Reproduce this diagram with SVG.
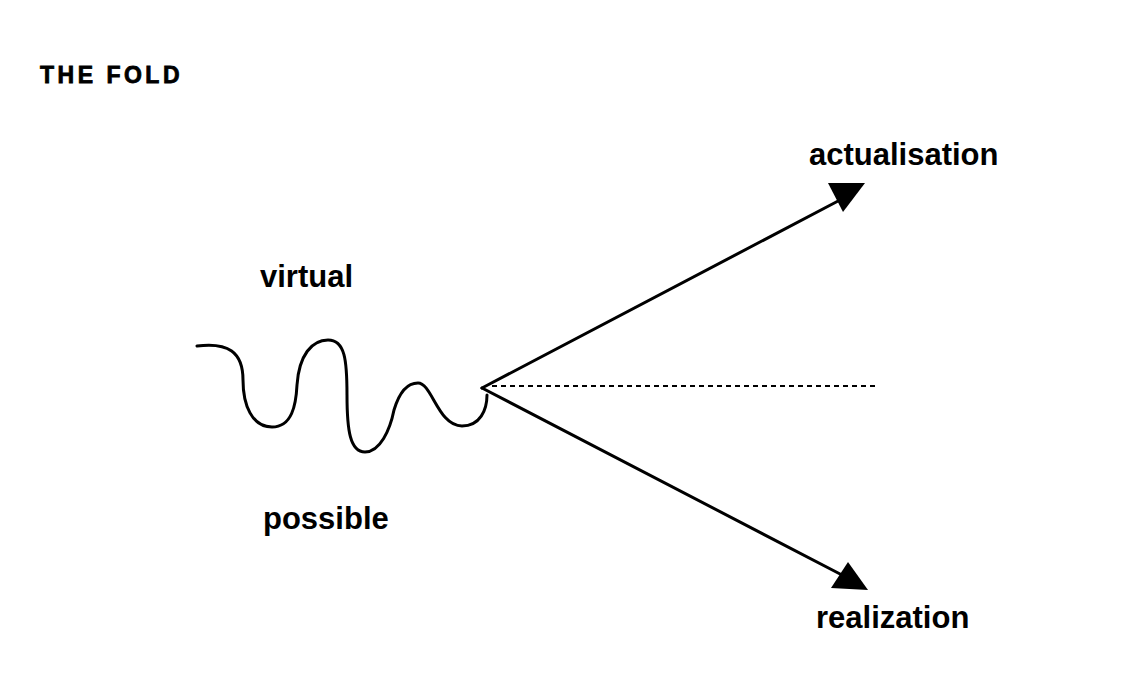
<svg xmlns="http://www.w3.org/2000/svg" width="1125" height="680" viewBox="0 0 1125 680">
<style>
.lbl{font-family:"Liberation Sans",Arial,sans-serif;font-weight:bold;font-size:31px;fill:#000}
.ttl{font-family:"Liberation Sans",Arial,sans-serif;font-weight:bold;font-size:23px;letter-spacing:3.5px;fill:#000;stroke:#000;stroke-width:0.8}
.ln{stroke:#000;stroke-width:3;fill:none;stroke-linecap:round}
</style>
<rect width="1125" height="680" fill="#fff"/>
<text class="ttl" x="40" y="83">THE FOLD</text>
<g id="wave">
<path class="ln" stroke-width="3.5" d="M197,346 C228,342 243,352 243,380 C243,405 252,427 272,427 C292,427 296,405 297,385 C299,355 312,340 328,340 C345,340 347,360 347,395 C347,430 350,452 365,452 C380,452 390,430 394,410 C400,390 408,383 418,383 C432,383 438,426 462,426 C480,426 487,410 487,395"/>
</g>
<g id="virtual"><text class="lbl" x="260" y="287">virtual</text></g>
<g id="possible"><text class="lbl" x="263" y="529">possible</text></g>
<g id="actualisation"><text class="lbl" x="809" y="165">actualisation</text></g>
<g id="realization"><text class="lbl" x="816" y="628">realization</text></g>
<g id="connectors">
<path class="ln" d="M482,388 L840,200"/>
<polygon points="828,183 865,183 843,212" fill="#000"/>
<path class="ln" d="M482,388 L842,575"/>
<polygon points="848,562 831,588 868,590" fill="#000"/>
<path d="M492,386 L875,386" stroke="#000" stroke-width="2" stroke-dasharray="5,4" fill="none"/>
</g>
</svg>
